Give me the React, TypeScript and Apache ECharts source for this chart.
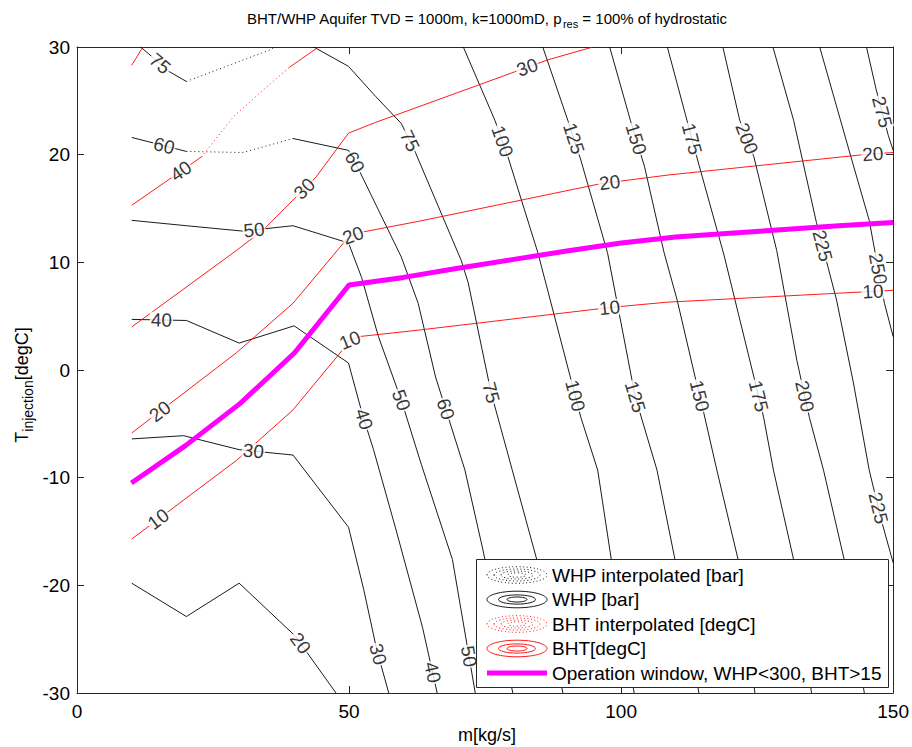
import React, { useEffect, useRef } from "react";
import * as echarts from "echarts";

const FONT = '"Liberation Sans", Arial, Helvetica, sans-serif';

// Axis ticks
const xTicks = [0, 50, 100, 150];
const yTicks = [-30, -20, -10, 0, 10, 20, 30];

// WHP contours [bar]  (x = m [kg/s], y = T_injection [degC])
const whp20 = [[10.06, -19.8], [20.1, -22.9], [29.8, -19.8], [40.1, -24.7], [47.6, -30]];
const whp30 = [[10.06, -6.4], [19.6, -6.1], [29.8, -7.4], [39.7, -7.9], [49.9, -14.6], [52.7, -20.4], [55.1, -26.0], [57.3, -30]];
const whp40 = [[10.06, 4.7], [20.1, 4.6], [29.8, 2.5], [39.9, 4.1], [49.9, 0.65], [52.5, -4.2], [54.5, -7.4], [58.5, -14.6], [63.5, -23.9], [66.2, -30]];
const whp50 = [[10.06, 13.9], [20.1, 13.4], [30.5, 12.9], [39.7, 13.4], [49.9, 11.8], [52.3, 8.6], [55.4, 3.1], [59.6, -2.8], [63.3, -8.8], [69.0, -17.6], [73.2, -30]];
const whp60a = [[10.06, 21.6], [20.1, 20.3]];
const whp60i = [[20.1, 20.3], [30.5, 20.2], [39.7, 21.5]];
const whp60b = [[39.7, 21.5], [49.9, 20.4], [51.8, 18.6], [59.6, 10.5], [62.7, 6.2], [65.9, -0.65], [71.3, -9.3], [74.6, -16.7], [80.1, -30]];
const whp75a = [[11.7, 30], [17.0, 27.7], [20.1, 26.8]];
const whp75i = [[20.1, 26.8], [35.3, 29.7], [36.4, 30]];
const whp75b = [[43.5, 30], [49.9, 28.2], [54.9, 25.4], [59.6, 22.9], [62.2, 20.2], [70.6, 10.2], [71.9, 8.1], [76.1, -2.1], [80.0, -9.3], [84.5, -17.6], [89.3, -30]];
const whp100 = [[71.0, 30], [76.8, 23.2], [79.2, 19.8], [84.7, 10.9], [87.8, 4.9], [92.6, -4.4], [95.7, -9.3], [98.2, -17.6], [102.4, -30]];
const whp125 = [[85.6, 30], [90.2, 23.2], [92.6, 19.5], [97.5, 10.9], [102.6, -2.5], [106.6, -9.3], [109.9, -17.6], [114.3, -30]];
const whp150 = [[97.9, 30], [101.7, 23.2], [104.3, 18.9], [107.9, 10.9], [110.3, 6.5], [113.6, -0.65], [115.2, -4.0], [117.6, -9.3], [121.5, -17.6], [124.6, -30]];
const whp175 = [[108.5, 30], [112.1, 23.2], [113.9, 19.8], [118.9, 10.7], [124.4, -0.65], [126.2, -4.4], [128.0, -9.3], [131.7, -17.6], [135.0, -30]];
const whp200 = [[118.7, 30], [121.8, 23.2], [124.4, 19.8], [128.6, 11.1], [132.3, 0.9], [134.6, -4.4], [137.2, -9.3], [141.0, -17.6], [144.7, -30]];
const whp225 = [[127.9, 30], [131.7, 23.2], [135.9, 13.7], [139.6, 6.5], [142.7, -1.2], [145.6, -9.3], [147.8, -13.9], [150, -17.9]];
const whp250 = [[136.5, 30], [141.9, 20.4], [145.6, 13.9], [148.4, 6.2], [150, 3.1]];
const whp275 = [[145.1, 30], [146.9, 26], [149.1, 21.8], [150, 20.4]];

// BHT contours [degC]
const bht10 = [[10.06, -15.7], [29.3, -8.4], [39.7, -3.7], [48.8, 1.86], [49.9, 2.7], [51.8, 3.1], [62.7, 3.7], [96.2, 5.7], [99.9, 5.9], [108.5, 6.3], [150, 7.4]];
const bht20 = [[10.06, -5.85], [29.3, 1.6], [39.7, 6.2], [49.9, 12.35], [52.3, 12.8], [62.7, 13.8], [96.2, 17.3], [108.5, 18.1], [144.5, 20.0], [150, 20.2]];
const bht30 = [[10.06, 4.0], [29.3, 11.1], [34.2, 13.0], [43.9, 17.9], [49.9, 22.0], [54.9, 23.0], [80.5, 27.7], [86.5, 28.8], [94.8, 30]];
const bht40a = [[10.06, 15.3], [22.9, 19.8]];
const bht40i = [[22.9, 19.8], [24.3, 20.7], [28.7, 23.5], [34.2, 26.0], [39.0, 28.1]];
const bht40b = [[39.0, 28.1], [44.1, 29.9]];
const bht50 = [[10.06, 28.3], [12.1, 30]];

// Operation window (WHP<300, BHT>15)
const opX = [10, 20, 30, 40, 50, 60, 70, 80, 90, 100, 110, 120, 130, 140, 150];
const opY = [-10.5, -7.0, -3.1, 1.6, 7.9, 8.6, 9.45, 10.25, 11.05, 11.8, 12.35, 12.7, 13.05, 13.4, 13.7];

// Contour label positions: [level, x, y]
const whpLabels = [
  [75, 15.0, 28.3], [60, 15.9, 20.6], [50, 32.6, 12.7], [60, 50.7, 19.2], [75, 60.4, 21.1],
  [100, 77.4, 21.1], [125, 90.7, 21.4], [150, 102.4, 21.4], [175, 112.5, 21.4], [200, 122.6, 21.4],
  [275, 147.4, 23.9], [225, 135.2, 11.3], [250, 146.3, 9.3], [40, 15.5, 4.4], [40, 52.5, -4.6],
  [50, 59.6, -2.8], [60, 67.3, -3.7], [75, 76.1, -2.1], [100, 90.7, -2.5], [125, 102.6, -2.5],
  [150, 113.6, -2.5], [175, 124.6, -2.5], [200, 133.2, -2.5], [225, 147.4, -12.8], [30, 32.4, -7.7],
  [20, 40.2, -25.7], [30, 55.3, -26.4], [40, 64.4, -28.2], [50, 70.8, -26.7],
];
const bhtLabels = [
  [40, 19.6, 18.1], [30, 41.7, 16.9], [30, 82.9, 27.9], [20, 50.9, 12.3], [20, 98.0, 17.0],
  [20, 146.3, 19.9], [10, 50.3, 2.6], [10, 97.9, 5.6], [10, 146.3, 7.1], [20, 15.5, -4.0], [10, 15.0, -13.9],
];

const whpLines: Record<number, number[][][]> = {
  20: [whp20], 30: [whp30], 40: [whp40], 50: [whp50], 60: [whp60a, whp60i, whp60b], 75: [whp75a, whp75i, whp75b],
  100: [whp100], 125: [whp125], 150: [whp150], 175: [whp175], 200: [whp200], 225: [whp225], 250: [whp250], 275: [whp275],
};
const bhtLines: Record<number, number[][][]> = {
  10: [bht10], 20: [bht20], 30: [bht30], 40: [bht40a, bht40i, bht40b], 50: [bht50],
};

const GRID = { left: 77, top: 47, width: 820, height: 646 };
const KX = GRID.width / 150;
const KY = GRID.height / 60;

function snap(lines: number[][][], x: number, y: number) {
  let best = { d: Infinity, x, y, ang: 0 };
  for (const line of lines) {
    for (let i = 0; i < line.length - 1; i++) {
      const [x1, y1] = line[i];
      const [x2, y2] = line[i + 1];
      const ax = x1 * KX, ay = y1 * KY, bx = x2 * KX, by = y2 * KY, px = x * KX, py = y * KY;
      const dx = bx - ax, dy = by - ay;
      const L = dx * dx + dy * dy;
      let t = L ? ((px - ax) * dx + (py - ay) * dy) / L : 0;
      t = Math.max(0, Math.min(1, t));
      const qx = ax + t * dx, qy = ay + t * dy;
      const d = (qx - px) ** 2 + (qy - py) ** 2;
      if (d < best.d) {
        let ang = (Math.atan2(dy, dx) * 180) / Math.PI;
        if (ang > 90) ang -= 180;
        if (ang < -90) ang += 180;
        best = { d, x: qx / KX, y: qy / KY, ang };
      }
    }
  }
  return best;
}

function textWidth(t: string, font: string) {
  const c = document.createElement("canvas").getContext("2d")!;
  c.font = font;
  return c.measureText(t).width;
}

function lineSeries(data: number[][], color: string, dotted: boolean, width = 0.9, z = 2) {
  return {
    type: "line",
    data,
    symbol: "none",
    showSymbol: false,
    silent: true,
    clip: true,
    z,
    lineStyle: { color, width, type: dotted ? [1, 3] : "solid" },
  };
}

export default function App() {
  const ref = useRef<HTMLDivElement>(null);
  useEffect(() => {
    if (!ref.current) return;
    const chart = echarts.init(ref.current, undefined, { renderer: "svg" });

    const BLACK = "#000000";
    const RED = "#ff0000";
    const series: any[] = [];
    [whp20, whp30, whp40, whp50, whp60a, whp60b, whp75a, whp75b, whp100, whp125, whp150, whp175, whp200, whp225, whp250, whp275].forEach((d) =>
      series.push(lineSeries(d, BLACK, false))
    );
    [whp60i, whp75i].forEach((d) => series.push(lineSeries(d, BLACK, true)));
    [bht10, bht20, bht30, bht40a, bht40b, bht50].forEach((d) => series.push(lineSeries(d, RED, false)));
    [bht40i].forEach((d) => series.push(lineSeries(d, RED, true)));
    series.push(lineSeries(opX.map((x, i) => [x, opY[i]]), "#ff00ff", false, 5, 4));

    const labelData = (labels: number[][], lines: Record<number, number[][][]>) =>
      labels.map(([lv, x, y]) => {
        const s = snap(lines[lv], x, y);
        return { value: [s.x, s.y], name: String(lv), label: { rotate: s.ang } };
      });

    const labelSeries = (data: any[]) => ({
      type: "scatter",
      symbolSize: 1,
      silent: true,
      z: 3,
      itemStyle: { color: "transparent" },
      label: {
        show: true,
        position: "inside",
        formatter: "{b}",
        color: "#000",
        fontSize: 19,
        fontFamily: FONT,
        backgroundColor: "#fff",
        padding: [0, 1],
        lineHeight: 16,
      },
      data,
    });
    series.push(labelSeries(labelData(whpLabels, whpLines)));
    series.push(labelSeries(labelData(bhtLabels, bhtLines)));

    // Title with subscript
    const tFont = `15px ${FONT}`;
    const tSub = `11px ${FONT}`;
    const t1 = "BHT/WHP Aquifer TVD = 1000m, k=1000mD, p";
    const t2 = "res";
    const t3 = " = 100% of hydrostatic";
    const w1 = textWidth(t1, tFont), w2 = textWidth(t2, tSub), w3 = textWidth(t3, tFont);
    const tx0 = GRID.left + GRID.width / 2 - (w1 + w2 + w3) / 2;
    const ty = 18;

    // Y axis name with subscript
    const yFont = `18px ${FONT}`;
    const ySub = `14px ${FONT}`;
    const y1 = "T", y2 = "injection", y3 = "[degC]";
    const yw1 = textWidth(y1, yFont), yw2 = textWidth(y2, ySub), yw3 = textWidth(y3, yFont);
    const ytot = yw1 + yw2 + yw3;

    const legRows = [
      { text: "WHP interpolated [bar]", color: BLACK, dotted: true },
      { text: "WHP [bar]", color: BLACK, dotted: false },
      { text: "BHT interpolated [degC]", color: RED, dotted: true },
      { text: "BHT[degC]", color: RED, dotted: false },
      { text: "Operation window, WHP<300, BHT>15", color: "#ff00ff", dotted: false, line: true },
    ];
    const legX = 476, legY = 559, legW = 412, legH = 128;
    const rowY0 = 575, rowDY = 24.5, iconCx = 517;
    const LZ = 100;
    const legendChildren: any[] = [
      { type: "rect", z: LZ, shape: { x: legX + 0.5, y: legY + 0.5, width: legW, height: legH }, style: { fill: "#fff", stroke: "#262626", lineWidth: 1 } },
    ];
    legRows.forEach((r: any, i) => {
      const cy = rowY0 + i * rowDY;
      if (r.line) {
        legendChildren.push({ type: "line", z: LZ + 1, shape: { x1: iconCx - 30, y1: cy, x2: iconCx + 30, y2: cy }, style: { stroke: r.color, lineWidth: 5 } });
      } else {
        const rings = r.dotted ? [[30, 8.3], [23, 6], [16, 4], [9, 2.2]] : [[30, 8.3], [18.5, 4.6], [10, 2.5]];
        rings.forEach(([rx, ry]) =>
          legendChildren.push({
            type: "ellipse",
            z: LZ + 1,
            shape: { cx: iconCx, cy, rx, ry },
            style: { fill: "none", stroke: r.color, lineWidth: 0.9, lineDash: r.dotted ? [1, 2.5] : null },
          })
        );
      }
      legendChildren.push({
        type: "text",
        z: LZ + 1,
        x: 552,
        y: cy,
        style: { text: r.text, font: `19px ${FONT}`, fill: "#000", textAlign: "left", textVerticalAlign: "middle" },
      });
    });

    const axisCommon = {
      type: "value",
      splitLine: { show: false },
      axisLine: { show: true, onZero: false, lineStyle: { color: "#262626", width: 1 } },
      axisTick: { show: true, inside: true, length: 7, lineStyle: { color: "#262626", width: 1 } },
    };

    chart.setOption({
      animation: false,
      backgroundColor: "#fff",
      grid: { ...GRID, show: false, containLabel: false },
      xAxis: [
        {
          ...axisCommon,
          min: xTicks[0],
          max: xTicks[xTicks.length - 1],
          interval: xTicks[1] - xTicks[0],
          position: "bottom",
          axisLabel: { fontSize: 19, color: "#000", fontFamily: FONT, margin: 9, showMinLabel: true, showMaxLabel: true },
        },
        {
          ...axisCommon,
          min: xTicks[0],
          max: xTicks[xTicks.length - 1],
          interval: xTicks[1] - xTicks[0],
          position: "top",
          axisLabel: { show: false },
        },
      ],
      yAxis: [
        {
          ...axisCommon,
          min: yTicks[0],
          max: yTicks[yTicks.length - 1],
          interval: yTicks[1] - yTicks[0],
          position: "left",
          axisLabel: { fontSize: 19, color: "#000", fontFamily: FONT, margin: 7 },
        },
        {
          ...axisCommon,
          min: yTicks[0],
          max: yTicks[yTicks.length - 1],
          interval: yTicks[1] - yTicks[0],
          position: "right",
          axisLabel: { show: false },
        },
      ],
      series,
      graphic: [
        { type: "text", x: tx0, y: ty, style: { text: t1, font: tFont, fill: "#000", textAlign: "left", textVerticalAlign: "middle" } },
        { type: "text", x: tx0 + w1, y: ty + 6, style: { text: t2, font: tSub, fill: "#000", textAlign: "left", textVerticalAlign: "middle" } },
        { type: "text", x: tx0 + w1 + w2, y: ty, style: { text: t3, font: tFont, fill: "#000", textAlign: "left", textVerticalAlign: "middle" } },
        {
          type: "text",
          x: GRID.left + GRID.width / 2,
          y: 735,
          style: { text: "m[kg/s]", font: `18px ${FONT}`, fill: "#000", textAlign: "center", textVerticalAlign: "middle" },
        },
        {
          type: "group",
          x: 22,
          y: 385,
          rotation: Math.PI / 2,
          children: [
            { type: "text", x: -ytot / 2, y: 0, style: { text: y1, font: yFont, fill: "#000", textAlign: "left", textVerticalAlign: "middle" } },
            { type: "text", x: -ytot / 2 + yw1, y: 6, style: { text: y2, font: ySub, fill: "#000", textAlign: "left", textVerticalAlign: "middle" } },
            { type: "text", x: -ytot / 2 + yw1 + yw2, y: 0, style: { text: y3, font: yFont, fill: "#000", textAlign: "left", textVerticalAlign: "middle" } },
          ],
        },
        ...legendChildren,
      ],
    });
    return () => chart.dispose();
  }, []);
  return (
    <div
      ref={ref}
      style={{ position: "fixed", left: 0, top: 0, width: 912, height: 747, background: "#fff" }}
    />
  );
}
